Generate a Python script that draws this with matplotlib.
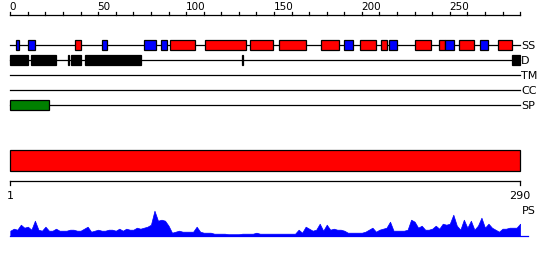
import matplotlib
matplotlib.use("Agg")
import matplotlib.pyplot as plt
from matplotlib.patches import Rectangle

seq_len = 290
track_names = ["SS", "D", "TM", "CC", "SP"]

# secondary structure segments: (start, end, kind)  H=helix (red), E=strand (blue)
ss_segments = [
    (3, 5, "E"), (10, 14, "E"), (37, 40, "H"), (52, 55, "E"),
    (76, 83, "E"), (86, 89, "E"), (91, 105, "H"), (111, 134, "H"),
    (136.5, 149.5, "H"), (153, 168, "H"), (177, 187, "H"), (190, 195, "E"),
    (199, 208, "H"), (211, 214, "H"), (215.5, 220, "E"), (230, 239.5, "H"),
    (244, 247, "H"), (247, 252.5, "E"), (255, 263.5, "H"), (267, 272, "E"),
    (277.5, 285.5, "H"),
]
# disorder segments
d_segments = [(0, 10), (12, 26), (32.9, 33.4), (34.7, 40.2), (42.5, 74.2),
              (132.0, 132.6), (285.5, 290)]
tm_segments = []
cc_segments = []
sp_segments = [(0, 22)]

domain_segments = [(0, 290)]

top_ticks = list(range(0, 291, 10))
top_labels = [0, 50, 100, 150, 200, 250]
bottom_labels = ["1", "290"]

ps_pos = list(range(0, 291, 2))
ps_vals = [5, 7, 6, 11, 8, 9, 6, 15, 6, 5,
           9, 5, 5, 7, 5, 5, 5, 6, 6, 5,
           5, 7, 9, 4, 5, 6, 5, 5, 6, 6,
           5, 7, 5, 7, 6, 6, 8, 7, 8, 9,
           11, 25, 15, 16, 15, 10, 3, 4, 5, 4,
           4, 4, 4, 9, 4, 3, 3, 3, 2, 2,
           2, 2, 1.5, 1.5, 1.5, 1.5, 2, 2, 2, 2,
           3, 2, 2, 2, 2, 2, 2, 2, 2, 2,
           2, 2, 6, 3, 9, 7, 5, 6, 12, 5,
           11, 6, 7, 6, 6, 5, 3, 3, 3, 3,
           3, 4, 6, 8, 4, 6, 7, 8, 14, 5,
           5, 5, 5, 6, 16, 14, 8, 10, 6, 6,
           7, 10, 7, 12, 11, 12, 21, 10, 6, 16,
           8, 15, 6, 10, 18, 8, 12, 8, 6, 4,
           7, 7, 8, 8, 8, 12]

colors = {"H": "#FF0000", "E": "#0000FF"}

fig = plt.figure(figsize=(5.5, 2.6), dpi=100)
ax = fig.add_axes([0, 0, 1, 1])
ax.set_axis_off()
scale = 1.758
x0 = 10.3
ax.set_xlim(-x0 / scale, (550 - x0) / scale)
ax.set_ylim(260, 0)

lw = 0.9
# top ruler
ruler_y = 15
ax.plot([0, seq_len], [ruler_y, ruler_y], color="black", lw=lw)
for t in top_ticks:
    ax.plot([t, t], [ruler_y, ruler_y - 3], color="black", lw=lw)
for t in top_labels:
    ax.text(t - 0.3, ruler_y - 3.5, str(t), ha="left", va="bottom", fontsize=7.5,
            family="DejaVu Sans")

track_y = {"SS": 45.3, "D": 60.3, "TM": 75.3, "CC": 90.2, "SP": 105.3}
box_h = 10

for name in track_names:
    y = track_y[name]
    ax.plot([0, seq_len], [y, y], color="black", lw=lw, zorder=1)
    ax.text(seq_len + 0.5, y + 0.5, name, ha="left", va="center", fontsize=8,
            family="DejaVu Sans")

def boxes(segs, y, color):
    for s, e in segs:
        ax.add_patch(Rectangle((s, y - box_h / 2), e - s, box_h, facecolor=color,
                               edgecolor="black", lw=lw, zorder=2))

for s, e, k in ss_segments:
    ax.add_patch(Rectangle((s, track_y["SS"] - box_h / 2), e - s, box_h,
                           facecolor=colors[k], edgecolor="black", lw=lw, zorder=2))
boxes(d_segments, track_y["D"], "black")
boxes(tm_segments, track_y["TM"], "#FFA500")
boxes(cc_segments, track_y["CC"], "#800080")
boxes(sp_segments, track_y["SP"], "#008000")

# domain bar
for s, e in domain_segments:
    ax.add_patch(Rectangle((s, 150.3), e - s, 20.2, facecolor="#FF0000",
                           edgecolor="black", lw=lw, zorder=2))

# bottom ruler
by = 180.5
ax.plot([0, seq_len], [by, by], color="black", lw=lw)
ax.plot([0, 0], [by, by + 4.5], color="black", lw=lw)
ax.plot([seq_len, seq_len], [by, by + 4.5], color="black", lw=lw)
ax.text(0, 196, bottom_labels[0], ha="center", va="center", fontsize=8)
ax.text(seq_len, 196, bottom_labels[1], ha="center", va="center", fontsize=8)
ax.text(seq_len + 1, 211, "PS", ha="left", va="center", fontsize=8)

# PS profile
base = 235.7
ax.fill_between(ps_pos, [base] * len(ps_pos), [base - v for v in ps_vals],
                color="#0000FF", lw=0.5, edgecolor="#0000FF")
ax.plot([0, seq_len + 4.5], [base, base], color="#0000FF", lw=lw)

fig.savefig("out.png", dpi=100)
